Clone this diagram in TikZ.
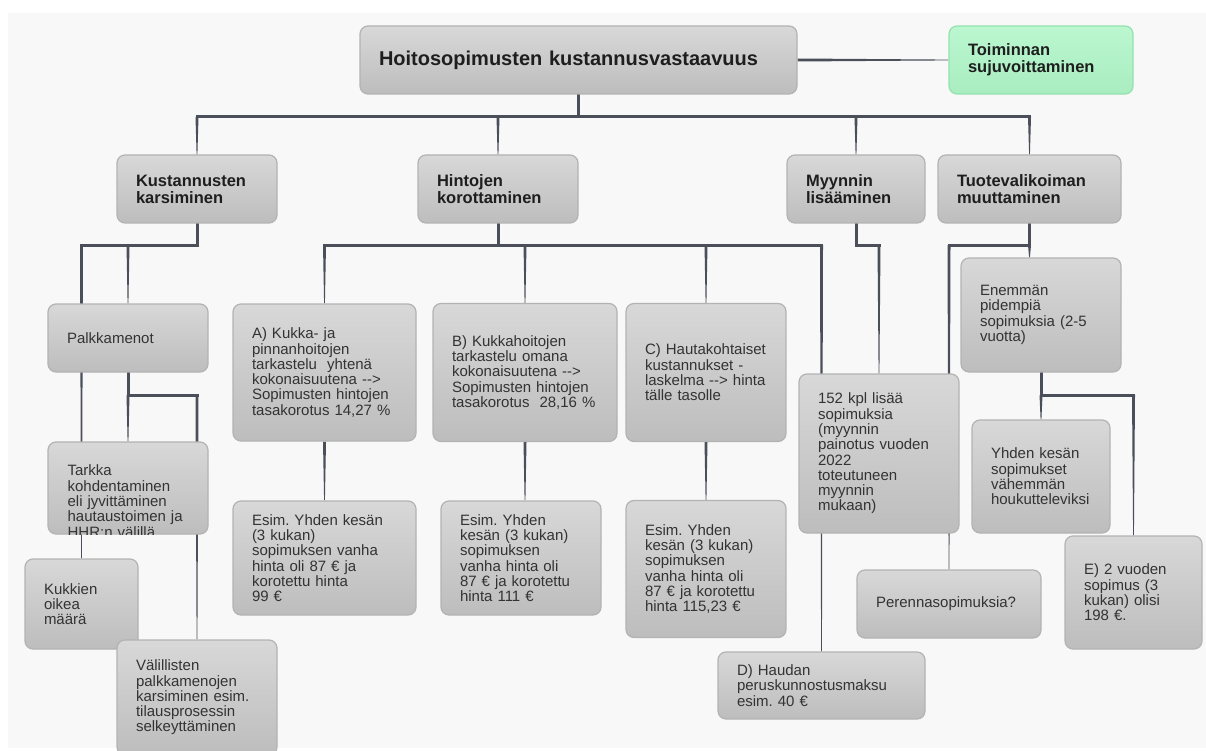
\documentclass[tikz,border=0pt]{standalone}
\usepackage{fontspec}
\setmainfont{Liberation Sans}
\usetikzlibrary{calc}
\frenchspacing

\definecolor{paperCol}{HTML}{F8F8F8}
\definecolor{wireCol}{HTML}{4B4F59}
\definecolor{boxTop}{HTML}{D8D8D8}
\definecolor{boxBot}{HTML}{BDBDBD}
\definecolor{boxLine}{HTML}{B3B3B3}
\definecolor{greenTop}{HTML}{BBF7D0}
\definecolor{greenBot}{HTML}{A9EDC0}
\definecolor{greenLine}{HTML}{93E2AE}
\definecolor{txtCol}{HTML}{333333}
\definecolor{headCol}{HTML}{1E1E1E}

\pgfdeclarelayer{bg}
\pgfdeclarelayer{wires}
\pgfsetlayers{bg,wires,main}

\tikzstyle{grayBox} = [rectangle, draw=boxLine, line width=1.2pt, rounded corners=8pt, top color=boxTop, bottom color=boxBot, inner xsep=19pt, align=left, text=txtCol, font={\fontsize{15}{15.3}\selectfont}]
\tikzstyle{headBox} = [grayBox, minimum height=68pt, text=headCol, font={\bfseries\fontsize{16.5}{17}\selectfont}]
\tikzstyle{greenBox} = [headBox, draw=greenLine, top color=greenTop, bottom color=greenBot]
\tikzstyle{plainText} = [inner sep=0pt, align=left, text=txtCol, font={\fontsize{15}{15.3}\selectfont}]
\tikzstyle{wire} = [draw=wireCol, line width=3pt, line cap=rect]

\newcommand{\dasharr}{-\kern0pt-\kern0pt>}
% tapering drop: thick at #1, thin at #2
\newcommand{\dropline}[2]{\fill[wireCol] let \p1=(#1), \p2=(#2) in (\x1-1.5pt,\y1) -- (\x1+1.5pt,\y1) -- (\x2+0.4pt,\y2) -- (\x2-0.4pt,\y2) -- cycle;}

\begin{document}
\begin{tikzpicture}[x=1pt,y=-1pt]
            \useasboundingbox (0,0) rectangle (1206,751);
            \coordinate (lvl1) at (0,117);
            \coordinate (lvl2) at (0,245);
            \coordinate (lvl3) at (0,395);

            \node[headBox, minimum width=437pt, text width=399pt, font={\bfseries\fontsize{20}{22}\selectfont}] (root) at (578.5,60) {Hoitosopimusten kustannusvastaavuus};
            \node[greenBox, minimum width=184pt, text width=146pt, right of=root, node distance=462.5pt] (toim) {Toiminnan\\sujuvoittaminen};

            \node[headBox, minimum width=160pt, text width=122pt] (kust) at (197,189) {Kustannusten\\karsiminen};
            \node[headBox, minimum width=160pt, text width=122pt, right of=kust, node distance=301pt] (hint) {Hintojen\\korottaminen};
            \node[headBox, minimum width=138pt, text width=100pt, right of=hint, node distance=358pt] (myyn) {Myynnin\\lisääminen};
            \node[headBox, minimum width=183pt, text width=145pt, right of=myyn, node distance=173.5pt] (tuote) {Tuotevalikoiman\\muuttaminen};

            \node[grayBox, minimum width=160pt, text width=122pt, minimum height=68pt] (palk) at (128,338) {Palkkamenot};
            \node[grayBox, minimum width=160pt, minimum height=92pt, below of=palk, node distance=150pt] (tarkka) {};
            \node[grayBox, minimum width=113pt, text width=75pt, minimum height=90pt] (kukk) at (81.5,604) {Kukkien\\oikea\\määrä};
            \node[grayBox, minimum width=160pt, text width=122pt, minimum height=115pt] (valil) at (197,697.5) {Välillisten\\palkkamenojen\\karsiminen esim.\\tilausprosessin\\selkeyttäminen};

            \node[grayBox, minimum width=183pt, text width=145pt, minimum height=137pt] (hA) at (324.5,372.5) {A) Kukka- ja\\pinnanhoitojen\\tarkastelu~~yhtenä\\kokonaisuutena \dasharr\\Sopimusten hintojen\\tasakorotus 14,27 \%};
            \node[grayBox, minimum width=183pt, text width=145pt, minimum height=114pt, below of=hA, node distance=185.5pt] (esimA) {Esim. Yhden kesän\\(3 kukan)\\sopimuksen vanha\\hinta oli 87 € ja\\korotettu hinta\\99 €};
            \node[grayBox, minimum width=184pt, text width=146pt, minimum height=138pt, right of=hA, node distance=200.5pt] (hB) {B) Kukkahoitojen\\tarkastelu omana\\kokonaisuutena \dasharr\\Sopimusten hintojen\\tasakorotus~~28,16 \%};
            \node[grayBox, minimum width=160pt, text width=122pt, minimum height=114pt, right of=esimA, node distance=196.5pt] (esimB) {Esim. Yhden\\kesän (3 kukan)\\sopimuksen\\vanha hinta oli\\87 € ja korotettu\\hinta 111 €};
            \node[grayBox, minimum width=160pt, text width=122pt, minimum height=138pt, right of=hB, node distance=181pt] (hC) {C) Hautakohtaiset\\kustannukset -\\laskelma \dasharr{} hinta\\tälle tasolle};
            \node[grayBox, minimum width=160pt, text width=122pt, minimum height=137pt, below of=hC, node distance=196.5pt] (esimC) {Esim. Yhden\\kesän (3 kukan)\\sopimuksen\\vanha hinta oli\\87 € ja korotettu\\hinta 115,23 €};
            \node[grayBox, minimum width=207pt, text width=169pt, minimum height=67pt] (hD) at (821.5,685.5) {D) Haudan\\peruskunnostusmaksu\\esim. 40 €};

            \node[grayBox, minimum width=160pt, text width=122pt, minimum height=159pt] (sopi) at (879,453.5) {152 kpl lisää\\sopimuksia\\(myynnin\\painotus vuoden\\2022\\toteutuneen\\myynnin\\mukaan)};

            \node[grayBox, minimum width=160pt, text width=122pt, minimum height=114pt] (enem) at (1041,315) {Enemmän\\pidempiä\\sopimuksia (2-5\\vuotta)};
            \node[grayBox, minimum width=138pt, text width=100pt, minimum height=113pt, below of=enem, node distance=161.5pt] (yhden) {Yhden kesän\\sopimukset\\vähemmän\\houkutteleviksi};
            \node[grayBox, minimum width=137pt, text width=99pt, minimum height=113pt] (hE) at (1133.5,592.5) {E) 2 vuoden\\sopimus (3\\kukan) olisi\\198 €.};
            \node[grayBox, minimum width=184pt, text width=146pt, minimum height=68pt] (peren) at (949,604) {Perennasopimuksia?};

            \begin{scope}
                \clip[rounded corners=8pt] (tarkka.north west) rectangle (tarkka.south east);
                \node[plainText, text width=122pt, anchor=north west] (tarkkaTxt) at ([xshift=20pt,yshift=-23.5pt]tarkka.north west) {Tarkka\\kohdentaminen\\eli jyvittäminen\\hautaustoimen ja\\HHR:n välillä};
            \end{scope}

            \begin{pgfonlayer}{bg}
                \fill[white] (0,0) rectangle (1206,751);
                \fill[paperCol] (8,13) rectangle (1206,748);
            \end{pgfonlayer}

            \begin{pgfonlayer}{wires}
                \fill[wireCol] let \p1=(root.east), \p2=(toim.west) in (\x1,\y1+1.5pt) -- (\x2,\y2+0.4pt) -- (\x2,\y2-0.4pt) -- (\x1,\y1-1.5pt) -- cycle;
                \draw[wire] (root.south) -- (root.south |- lvl1);
                \draw[wire] (kust.north |- lvl1) -- (tuote.north |- lvl1);
                \dropline{kust.north |- lvl1}{kust.north}
                \dropline{hint.north |- lvl1}{hint.north}
                \dropline{myyn.north |- lvl1}{myyn.north}
                \dropline{tuote.north |- lvl1}{tuote.north}

                \draw[wire] (kust.south) -- (kust.south |- lvl2) -- (kukk.north |- lvl2);
                \dropline{kukk.north |- lvl2}{kukk.north}
                \dropline{palk.north |- lvl2}{palk.north}
                \draw[wire] (palk.south) -- (palk.south |- lvl3) -- (valil.north |- lvl3);
                \dropline{tarkka.north |- lvl3}{tarkka.north}
                \dropline{valil.north |- lvl3}{valil.north}

                \draw[wire] (hint.south) -- (hint.south |- lvl2);
                \draw[wire] (hA.north |- lvl2) -- (hD.north |- lvl2);
                \dropline{hA.north |- lvl2}{hA.north}
                \dropline{hB.north |- lvl2}{hB.north}
                \dropline{hC.north |- lvl2}{hC.north}
                \dropline{hD.north |- lvl2}{hD.north}
                \dropline{hA.south}{esimA.north}
                \dropline{hB.south}{hB.south |- esimB.north}
                \dropline{hC.south}{esimC.north}

                \draw[wire] (myyn.south) -- (myyn.south |- lvl2) -- (sopi.north |- lvl2);
                \dropline{sopi.north |- lvl2}{sopi.north}

                \draw[wire] (tuote.south) -- (tuote.south |- lvl2) -- (peren.north |- lvl2);
                \dropline{tuote.south |- lvl2}{tuote.south |- enem.north}
                \dropline{peren.north |- lvl2}{peren.north}
                \draw[wire] (enem.south) -- (enem.south |- lvl3) -- (hE.north |- lvl3);
                \dropline{yhden.north |- lvl3}{yhden.north}
                \dropline{hE.north |- lvl3}{hE.north}
            \end{pgfonlayer}
\end{tikzpicture}
\end{document}
